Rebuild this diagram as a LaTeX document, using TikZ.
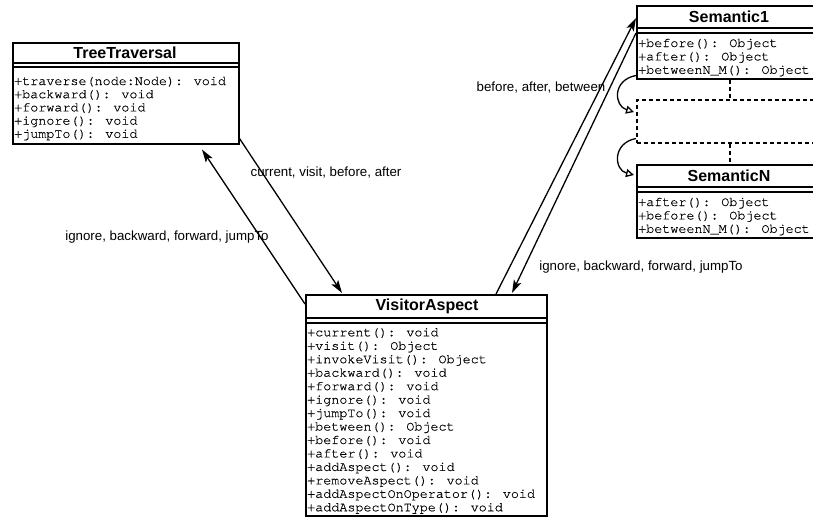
\documentclass[tikz,border=0pt]{standalone}
\usepackage{fontspec}
\setmainfont{Liberation Sans}
\newfontfamily\monof[FakeBold=0.4]{TeX Gyre Cursor}
\usetikzlibrary{arrows.meta,calc}
\begin{document}
\begin{tikzpicture}[x=1pt,y=-1pt,
 box/.style={draw, line width=1.5pt, rectangle, inner sep=0pt, anchor=north west},
 dbox/.style={draw, line width=1.5pt, dash pattern=on 4pt off 3pt, rectangle, inner sep=0pt, anchor=north west},
 ttl/.style={font=\fontsize{16}{16}\selectfont\bfseries, inner sep=0pt},
 op/.style={font=\monof\fontsize{13.4}{13.4}\selectfont, inner sep=0pt, anchor=base west},
 lab/.style={font=\fontsize{13.3}{13.3}\selectfont, inner sep=0pt},
 arr/.style={line width=1.3pt, -{Stealth[length=13pt,width=8pt,inset=3pt]}},
 inh/.style={line width=1.3pt, -{Triangle[open,length=8pt,width=8pt,fill=white]}},
 cmp/.style={line width=1.5pt},
 dsh/.style={line width=1.5pt, dash pattern=on 4pt off 3pt}]
\useasboundingbox (0,0) rectangle (813,517);
\clip (0,0) rectangle (813,517);
\fill[white] (0,0) rectangle (813,517);

% TreeTraversal
\node[box, minimum width=226pt, minimum height=101pt] (tt) at (12,42) {};
\node[ttl] (tt-t) at (125,53) {TreeTraversal};
\draw[cmp] (12,63) -- (238,63);
\draw[cmp] (12,67) -- (238,67);
\foreach \t [count=\i] in {+traverse(node:Node): void,+backward(): void,+forward(): void,+ignore(): void,+jumpTo(): void}
  \node[op] (tt-o\i) at (14,{85+13.2*(\i-1)}) {\t};

% VisitorAspect
\node[box, minimum width=241pt, minimum height=221pt] (va) at (305,294) {};
\node[ttl] (va-t) at (427,306) {VisitorAspect};
\draw[cmp] (305,318) -- (546,318);
\draw[cmp] (305,323) -- (546,323);
\foreach \t [count=\i] in {+current(): void,+visit(): Object,+invokeVisit(): Object,+backward(): void,+forward(): void,+ignore(): void,+jumpTo(): void,+between(): Object,+before(): void,+after(): void,+addAspect(): void,+removeAspect(): void,+addAspectOnOperator(): void,+addAspectOnType(): void}
  \node[op] (va-o\i) at (307,{336.3+13.46*(\i-1)}) {\t};

% Semantic1
\node[box, minimum width=186pt, minimum height=73pt] (s1) at (636,5) {};
\node[ttl] (s1-t) at (729,17) {Semantic1};
\draw[cmp] (636,28) -- (822,28);
\draw[cmp] (636,33) -- (822,33);
\node[op] (s1-o1) at (638,47) {+before(): Object};
\node[op] (s1-o2) at (638,60.4) {+after(): Object};
\node[op] (s1-o3) at (638,73.8) {+betweenN\_M(): Object};

% dashed intermediate
\node[dbox, minimum width=186pt, minimum height=43pt] (sd) at (636,99) {};

% SemanticN
\node[box, minimum width=186pt, minimum height=73pt] (sn) at (636,164) {};
\node[ttl] (sn-t) at (729,176) {SemanticN};
\draw[cmp] (636,187) -- (822,187);
\draw[cmp] (636,192) -- (822,192);
\node[op] (sn-o1) at (638,206) {+after(): Object};
\node[op] (sn-o2) at (638,219.4) {+before(): Object};
\node[op] (sn-o3) at (638,232.8) {+betweenN\_M(): Object};

% dashed links
\draw[dsh] (s1.south) -- (sd.north);
\draw[dsh] (sd.south) -- (sn.north);

% curved arrows
\draw[inh] ($(s1.south west)+(0,-4)$) .. controls (612,80) and (614,106) .. ($(sd.north west)+(-2,13)$);
\draw[inh] ($(sd.south west)+(0,-5)$) .. controls (612,143) and (614,170) .. ($(sn.north west)+(-2,11)$);

% connectors
\draw[arr] ($(tt.south east)+(0,-6)$) -- ($(va.north west)+(37,-1)$);
\draw[arr] ($(va.north west)+(0,10)$) -- ($(tt.south west)+(190,5)$);
\draw[arr] ($(va.north west)+(191,0)$) -- ($(s1.north west)+(0,13)$);
\draw[arr] ($(s1.north west)+(0,28)$) -- ($(va.north west)+(207,-1)$);

% labels
\node[lab] (l1) at (326,173) {current, visit, before, after};
\node[lab] (l2) at (167,237) {ignore, backward, forward, jumpTo};
\node[lab] (l3) at (541,88) {before, after, between};
\node[lab] (l4) at (641,267) {ignore, backward, forward, jumpTo};
\end{tikzpicture}
\end{document}
